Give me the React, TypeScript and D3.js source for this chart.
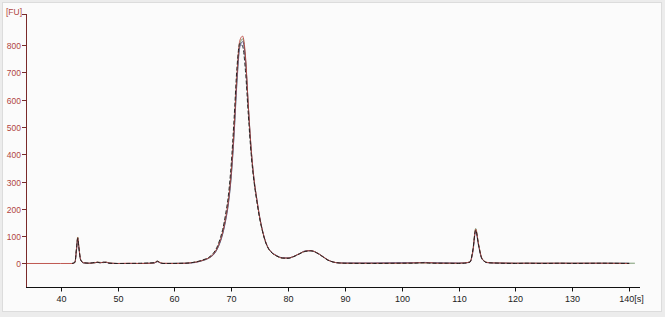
import React from "react";
import * as d3 from "d3";

const W = 665;
const H = 317;

const xTicks = [40, 50, 60, 70, 80, 90, 100, 110, 120, 130, 140];
const yTicks = [0, 100, 200, 300, 400, 500, 600, 700, 800];
const xUnit = "[s]";
const yUnit = "[FU]";

const redTrace: [number, number][] = [
  [34, 0], [40, 0], [42, 0], [42.5, 4], [42.8, 55], [43, 95], [43.2, 62], [43.5, 15], [44, 3], [45, 1],
  [46, 3], [46.5, 5], [47, 3], [47.5, 4], [48, 5], [48.5, 2], [49, 1], [50, 0], [52, 1], [54, 0],
  [56, 1], [56.5, 3], [57, 8], [57.5, 3], [58, 1], [60, 0], [62, 1], [63, 3], [64, 6], [65, 12],
  [66, 20], [67, 38], [67.5, 55], [68, 80], [68.5, 115], [69, 165], [69.5, 230], [70, 335], [70.5, 495],
  [71, 690], [71.5, 815], [72, 832], [72.5, 760], [73, 580], [73.5, 420], [74, 310], [74.5, 235],
  [75, 170], [75.5, 120], [76, 82], [76.5, 57], [77, 43], [78, 28], [79, 20], [80, 20], [81, 26],
  [82, 36], [83, 45], [84, 47], [85, 40], [86, 27], [87, 13], [88, 5], [89, 2], [90, 1], [95, 1],
  [100, 1], [102, 2], [103, 3], [104, 2], [105, 3], [106, 1], [108, 1], [110, 1], [111, 2], [112, 6],
  [112.5, 45], [113, 125], [113.5, 72], [114, 24], [114.5, 9], [115, 4], [116, 2], [120, 1], [125, 1],
  [130, 1], [135, 1], [140, 0],
];

const blackTrace: [number, number][] = [
  [42, 0], [42.5, 5], [42.8, 60], [43, 92], [43.2, 58], [43.5, 14], [44, 3], [45, 1], [46, 4], [46.5, 4],
  [47, 2], [47.5, 5], [48, 4], [48.5, 1], [50, 0], [54, 1], [56.5, 3], [57, 9], [57.5, 3], [58, 0],
  [62, 1], [63, 3], [64, 7], [65, 13], [66, 22], [67, 42], [67.5, 60], [68, 88], [68.5, 125], [69, 180],
  [69.5, 250], [70, 365], [70.5, 530], [71, 715], [71.5, 805], [72, 795], [72.5, 705], [73, 545],
  [73.5, 400], [74, 300], [74.5, 228], [75, 165], [75.5, 117], [76, 80], [76.5, 56], [77, 42],
  [78, 27], [79, 20], [80, 19], [81, 25], [82, 35], [83, 44], [84, 46], [85, 39], [86, 26], [87, 12],
  [88, 5], [89, 2], [90, 1], [95, 0], [100, 1], [102, 1], [103, 2], [104, 3], [105, 1], [108, 1],
  [110, 0], [111, 1], [112, 5], [112.5, 50], [113, 122], [113.5, 68], [114, 22], [114.5, 8], [115, 3],
  [116, 2], [120, 0], [122, 1], [125, 0], [128, 1], [130, 0], [135, 1], [140, 0],
];

const greenTrace: [number, number][] = [
  [42, 0], [42.5, 3], [42.8, 58], [43, 97], [43.2, 60], [43.5, 16], [44, 2], [45, 1], [46, 2], [46.5, 5],
  [47, 4], [47.5, 3], [48, 5], [48.5, 2], [50, 0], [54, 0], [56.5, 2], [57, 7], [57.5, 3], [58, 0],
  [62, 1], [63, 3], [64, 6], [65, 11], [66, 19], [67, 36], [67.5, 52], [68, 76], [68.5, 110], [69, 158],
  [69.5, 222], [70, 322], [70.5, 478], [71, 670], [71.5, 800], [72, 822], [72.5, 752], [73, 575],
  [73.5, 418], [74, 308], [74.5, 233], [75, 168], [75.5, 119], [76, 81], [76.5, 56], [77, 42],
  [78, 28], [79, 20], [80, 20], [81, 26], [82, 36], [83, 45], [84, 47], [85, 40], [86, 27], [87, 13],
  [88, 5], [89, 2], [90, 1], [95, 1], [100, 1], [103, 2], [104, 2], [105, 2], [108, 1], [110, 1],
  [111, 2], [112, 6], [112.5, 47], [113, 128], [113.5, 70], [114, 23], [114.5, 9], [115, 4], [116, 2],
  [120, 1], [125, 1], [130, 1], [135, 1], [141, 1],
];

const blueTrace: [number, number][] = [
  [42, 0], [42.5, 4], [42.8, 52], [43, 90], [43.2, 57], [43.5, 14], [44, 2], [45, 1], [46, 3], [46.5, 4],
  [47, 3], [47.5, 4], [48, 4], [48.5, 1], [50, 0], [54, 0], [56.5, 2], [57, 7], [57.5, 2], [58, 0],
  [62, 1], [63, 2], [64, 5], [65, 11], [66, 19], [67, 35], [67.5, 51], [68, 75], [68.5, 108], [69, 155],
  [69.5, 218], [70, 318], [70.5, 470], [71, 660], [71.5, 790], [72, 812], [72.5, 748], [73, 578],
  [73.5, 420], [74, 310], [74.5, 236], [75, 171], [75.5, 121], [76, 83], [76.5, 58], [77, 44],
  [78, 29], [79, 21], [80, 20], [81, 26], [82, 36], [83, 46], [84, 47], [85, 40], [86, 27], [87, 13],
  [88, 5], [89, 2], [90, 2], [95, 2], [100, 3], [102, 3], [103, 3], [104, 4], [105, 3], [108, 2],
  [110, 2], [111, 2], [112, 5], [112.5, 42], [113, 118], [113.5, 66], [114, 21], [114.5, 8], [115, 3],
  [116, 2], [120, 1], [125, 1], [130, 1], [135, 1], [140, 1],
];

const traces = [
  { data: greenTrace, color: "#5a8350", dash: "", w: 0.8 },
  { data: blueTrace, color: "#4a4080", dash: "", w: 0.8 },
  { data: redTrace, color: "#b8463e", dash: "", w: 0.9 },
  { data: blackTrace, color: "#1a1a1a", dash: "4,2", w: 0.9 },
];

export default function App() {
  const x = d3.scaleLinear().domain([33.9, 141.9]).range([26, 640]);
  const y = d3.scaleLinear().domain([-86, 913]).range([287, 14]);
  const line = d3
    .line<[number, number]>()
    .x((d) => x(d[0]))
    .y((d) => y(d[1]))
    .curve(d3.curveMonotoneX);

  const font = "'Liberation Sans', Arial, sans-serif";
  const axisRed = "#7a2a2a";
  const labelRed = "#b0453f";

  return (
    <div style={{ position: "fixed", left: 0, top: 0 }}>
      <svg width={W} height={H} style={{ display: "block" }}>
        <rect x={0} y={0} width={W} height={H} fill="#ececec" />
        <rect x={2.5} y={2.5} width={W - 6} height={H - 8} fill="#fbfbfb" stroke="#dcdcdc" />
        <g>
          {traces.map((t, i) => (
            <path
              key={i}
              d={line(t.data) || ""}
              fill="none"
              stroke={t.color}
              strokeWidth={t.w}
              strokeDasharray={t.dash || undefined}
            />
          ))}
        </g>
        {/* y axis */}
        <line x1={26.5} x2={26.5} y1={14} y2={287} stroke={axisRed} strokeWidth={1} />
        <line x1={22} x2={26.5} y1={14.5} y2={14.5} stroke={axisRed} />
        {yTicks.map((v) => (
          <g key={v} transform={`translate(0,${Math.round(y(v)) + 0.5})`}>
            <line x1={22} x2={26.5} stroke={axisRed} />
            <text x={21} y={3} textAnchor="end" fontFamily={font} fontSize={8.5} fill={labelRed}>
              {v}
            </text>
          </g>
        ))}
        <text x={6} y={15} fontFamily={font} fontSize={8.5} fill={labelRed}>
          {yUnit}
        </text>
        {/* x axis */}
        <line x1={26} x2={640} y1={287.5} y2={287.5} stroke="#111" strokeWidth={1} />
        {xTicks.map((v, i) => (
          <g key={v} transform={`translate(${Math.round(x(v)) + 0.5},287.5)`}>
            <line y1={0} y2={4} stroke="#111" />
            <text
              x={i === xTicks.length - 1 ? 2 : 0}
              y={14}
              textAnchor="middle"
              fontFamily={font}
              fontSize={9}
              fill="#222"
            >
              {i === xTicks.length - 1 ? `${v}${xUnit}` : v}
            </text>
          </g>
        ))}
      </svg>
    </div>
  );
}
